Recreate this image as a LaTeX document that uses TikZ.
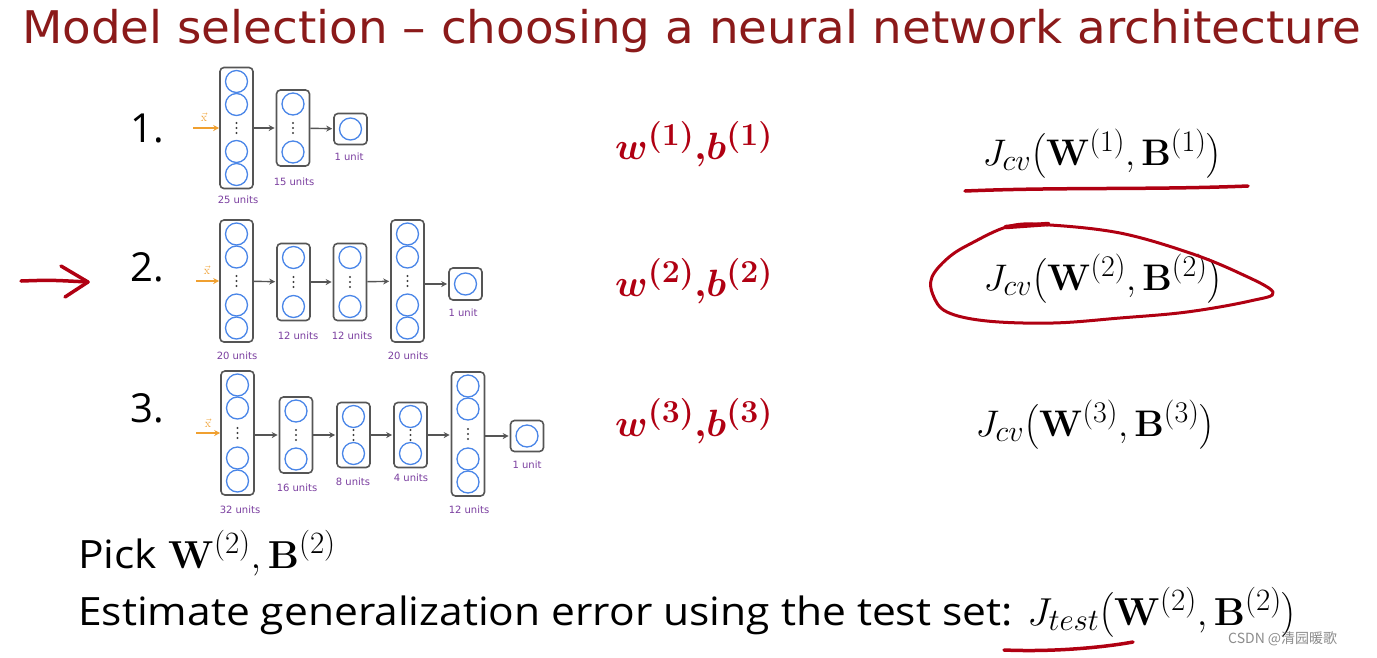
\RequirePackage{fix-cm}
\documentclass[tikz,border=0pt]{standalone}
\usepackage{amsmath}
\usepackage[no-math]{fontspec}
\setmainfont[FakeStretch=1.09]{Open Sans}
\newfontfamily\titlefont[FakeStretch=1.04]{DejaVu Sans}
\newfontfamily\lblfont{DejaVu Sans}
\newfontfamily\numfont{Open Sans}
\newfontfamily\cjkfont{Noto Sans CJK SC}
\DeclareMathSizes{39}{39}{31}{25}
\DeclareMathSizes{37}{37}{30}{24}
\DeclareMathSizes{38}{38}{32}{26}
\usetikzlibrary{arrows.meta}
\definecolor{titlered}{HTML}{8B1A1A}
\definecolor{inkred}{HTML}{B00012}
\definecolor{nnblue}{HTML}{4A86E8}
\definecolor{boxgray}{HTML}{555555}
\definecolor{unitpurple}{HTML}{7B3FA0}
\definecolor{inorange}{HTML}{F0A030}
\newcommand\nnlayer[5]{% name, x, cy, height, type
  \node[layerbox, minimum height=#4pt] (#1) at (#2,#3) {};
  \ifnum#5=1\relax \node[neuron] (#1-a) at (#2,#3) {};\fi
  \ifnum#5>1\relax
    \node[neuron] (#1-a) at (#2,{#3-#4/2+14}) {};
    \node[neuron] (#1-b) at (#2,{#3+#4/2-14}) {};
    \fill[black!75] (#2,#3-5) circle (1.1pt) (#2,#3) circle (1.1pt) (#2,#3+5) circle (1.1pt);
  \fi
  \ifnum#5=4\relax
    \node[neuron] (#1-c) at (#2,{#3-#4/2+37}) {};
    \node[neuron] (#1-d) at (#2,{#3+#4/2-37}) {};
  \fi
}
\begin{document}
\begin{tikzpicture}[x=1pt,y=-1pt,
  layerbox/.style={draw=boxgray, line width=1.6pt, rounded corners=4pt, minimum width=33pt, inner sep=0pt, fill=white},
  neuron/.style={circle, draw=nnblue, line width=1.3pt, minimum size=22pt, inner sep=0pt},
  conn/.style={draw=boxgray, line width=1.4pt, -{Stealth[length=6pt,width=6pt]}, shorten >=1pt},
  inarrow/.style={draw=inorange, line width=1.6pt, -{Stealth[length=6pt,width=6pt]}},
  unitlbl/.style={font=\lblfont\fontsize{10}{12}\selectfont, text=unitpurple, inner sep=0pt},
  xlbl/.style={text=inorange, font=\fontsize{12}{12}\selectfont, inner sep=0pt},
  numlbl/.style={font=\numfont\fontsize{40}{44}\selectfont, inner sep=0pt, anchor=base west},
  hand/.style={text=inkred, font=\fontsize{38}{44}\selectfont\boldmath, inner sep=0pt, anchor=base west},
  jcv/.style={font=\fontsize{37}{40}\selectfont, inner sep=0pt},
  body/.style={font=\fontsize{39}{44}\selectfont, inner sep=0pt, anchor=base west},
  ink/.style={draw=inkred, line width=3.5pt, line cap=round, line join=round}]
\fill[white] (0,0) rectangle (1377,657);
\useasboundingbox (0,0) rectangle (1377,657);

% title
\node[anchor=base west, text=titlered, font=\titlefont\fontsize{45}{50}\selectfont, inner sep=0pt] (title) at (22,43) {Model selection – choosing a neural network architecture};

% numbers
\node[numlbl] (num1) at (130,142) {1.};
\node[numlbl] (num2) at (130,281) {2.};
\node[numlbl] (num3) at (130,422) {3.};

% red pointer arrow
\coordinate (ra-start) at (21,281);
\coordinate (ra-tip) at (88,282);
\draw[ink] (ra-start) .. controls (50,280) .. (ra-tip);
\draw[ink] (61,266) -- (ra-tip) -- (65,297);

% ---------- network 1 ----------
\nnlayer{n1l1}{236.5}{128}{121}{4}
\nnlayer{n1l2}{293}{128}{76}{2}
\nnlayer{n1l3}{350.5}{129}{31}{1}
\coordinate (n1in) at (193,128);
\draw[inarrow] (n1in) -- (n1l1);
\node[xlbl] (n1x) at (204,117) {$\vec{\mathrm{x}}$};
\draw[conn] (n1l1) -- (n1l2);
\draw[conn] (n1l2) -- (n1l3);
\node[unitlbl] (n1t1) at (238,200) {25 units};
\node[unitlbl] (n1t2) at (294,182) {15 units};
\node[unitlbl] (n1t3) at (349,157) {1 unit};

% ---------- network 2 ----------
\nnlayer{n2l1}{236.5}{281}{122}{4}
\nnlayer{n2l2}{293.5}{282}{77}{2}
\nnlayer{n2l3}{350}{282}{77}{2}
\nnlayer{n2l4}{407.5}{281}{122}{4}
\nnlayer{n2l5}{465.5}{284}{32}{1}
\coordinate (n2in) at (196,281);
\draw[inarrow] (n2in) -- (n2l1);
\node[xlbl] (n2x) at (207,270) {$\vec{\mathrm{x}}$};
\draw[conn] (n2l1) -- (n2l2);
\draw[conn] (n2l2) -- (n2l3);
\draw[conn] (n2l3) -- (n2l4);
\draw[conn] (n2l4.east |- n2l5) -- (n2l5);
\node[unitlbl] (n2t1) at (237,356) {20 units};
\node[unitlbl] (n2t2) at (298,336) {12 units};
\node[unitlbl] (n2t3) at (352,336) {12 units};
\node[unitlbl] (n2t4) at (408,356) {20 units};
\node[unitlbl] (n2t5) at (463,313) {1 unit};

% ---------- network 3 ----------
\nnlayer{n3l1}{237.5}{433}{124}{4}
\nnlayer{n3l2}{296}{435}{76}{2}
\nnlayer{n3l3}{353.5}{435}{65}{2}
\nnlayer{n3l4}{410.5}{435}{65}{2}
\nnlayer{n3l5}{468}{434}{124}{4}
\nnlayer{n3l6}{527}{436}{31}{1}
\coordinate (n3in) at (196,433);
\draw[inarrow] (n3in) -- (n3l1);
\node[xlbl] (n3x) at (208,423) {$\vec{\mathrm{x}}$};
\draw[conn] (n3l1.east |- n3l2) -- (n3l2);
\draw[conn] (n3l2) -- (n3l3);
\draw[conn] (n3l3) -- (n3l4);
\draw[conn] (n3l4) -- (n3l5.west |- n3l4);
\draw[conn] (n3l5.east |- n3l6) -- (n3l6);
\node[unitlbl] (n3t1) at (240,510) {32 units};
\node[unitlbl] (n3t2) at (297,488) {16 units};
\node[unitlbl] (n3t3) at (353,482) {8 units};
\node[unitlbl] (n3t4) at (411,478) {4 units};
\node[unitlbl] (n3t5) at (469,510) {12 units};
\node[unitlbl] (n3t6) at (527,465) {1 unit};

% ---------- handwritten parameters ----------
\node[hand] (p1) at (615,159) {$w^{(1)}{,}b^{(1)}$};
\node[hand] (p2) at (615,296) {$w^{(2)}{,}b^{(2)}$};
\node[hand] (p3) at (615,436) {$w^{(3)}{,}b^{(3)}$};

% ---------- J_cv ----------
\node[jcv] (j1) at (1102,154) {$J_{cv}\bigl(\mathbf{W}^{(1)},\mathbf{B}^{(1)}\bigr)$};
\node[jcv] (j2) at (1103,279) {$J_{cv}\bigl(\mathbf{W}^{(2)},\mathbf{B}^{(2)}\bigr)$};
\node[jcv] (j3) at (1095,425) {$J_{cv}\bigl(\mathbf{W}^{(3)},\mathbf{B}^{(3)}\bigr)$};

% underline row 1
\draw[ink] (965,191) .. controls (1060,187) and (1150,190) .. (1248,186);
% loop round row 2
\draw[ink, line width=3pt] plot[smooth cycle, tension=0.6] coordinates {
  (1010,226) (1050,225) (1120,233) (1187,252) (1237,272) (1273,292)
  (1250,301) (1187,312) (1120,318) (1053,323) (987,321) (947,312)
  (933,295) (932,277) (948,258) (970,244)};
\draw[ink, line width=4.5pt] (1006,227) -- (1048,224);

% ---------- bottom text ----------
\node[body] (pick) at (78,568) {Pick $\mathbf{W}^{(2)},\mathbf{B}^{(2)}$};
\node[body] (est) at (78,625) {Estimate generalization error using the test set: $J_{test}\bigl(\mathbf{W}^{(2)},\mathbf{B}^{(2)}\bigr)$};
\draw[ink] (1004,650) .. controls (1050,652) and (1100,648) .. (1133,642);

% watermark
\node[text=black!45, font=\cjkfont\fontsize{14}{16}\selectfont, anchor=base west, inner sep=0pt] (wm) at (1228,643) {CSDN @清园暖歌};
\end{tikzpicture}
\end{document}
